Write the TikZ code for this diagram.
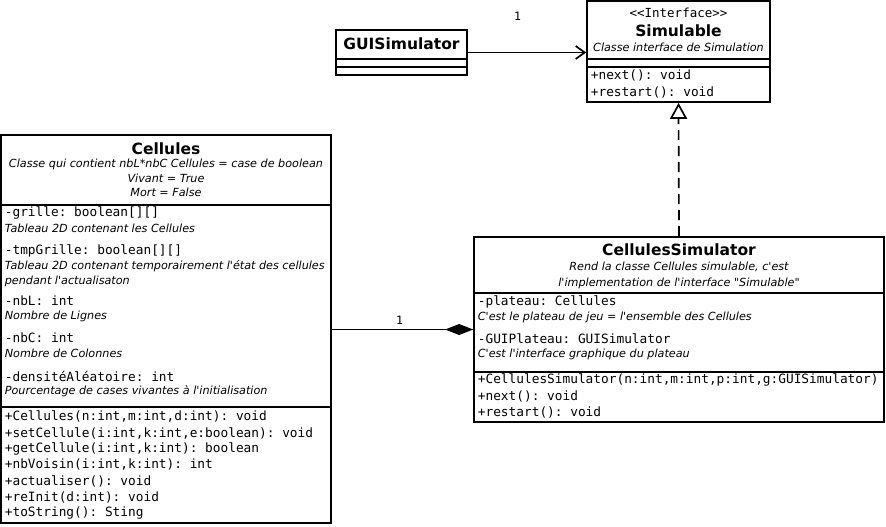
\documentclass[tikz,border=0pt]{standalone}
\usepackage{fontspec}
\setmainfont{DejaVu Sans}[Ligatures=TeXOff]
\setmonofont{DejaVu Sans Mono}
\usetikzlibrary{arrows.meta}

\begin{document}
\begin{tikzpicture}[x=1pt, y=-1pt, line width=1.7pt,
    umlbox/.style={draw, inner sep=0pt},
    ttl/.style={font=\fontsize{15.5}{18}\selectfont\bfseries, inner sep=0pt},
    cmt/.style={font=\fontsize{11.2}{13}\selectfont\itshape, inner sep=0pt},
    cmtl/.style={cmt, anchor=west},
    mbr/.style={font=\fontsize{12.8}{15}\selectfont\ttfamily, inner sep=0pt, anchor=west},
    mult/.style={font=\fontsize{11.5}{13}\selectfont\ttfamily, inner sep=0pt}]
    \useasboundingbox (0,0) rectangle (886,527);

    % 类 GUISimulator
    \node[umlbox, minimum width=131pt, minimum height=45pt] (gui) at (401.5,52.5) {};
    \draw (gui.west |- 0,59) -- (gui.east |- 0,59);
    \draw (gui.west |- 0,67) -- (gui.east |- 0,67);
    \node[ttl] (guiname) at (401.5,44) {GUISimulator};

    % 接口 Simulable
    \node[umlbox, minimum width=183pt, minimum height=101pt] (simu) at (678.5,51.5) {};
    \draw (simu.west |- 0,59) -- (simu.east |- 0,59);
    \draw (simu.west |- 0,67) -- (simu.east |- 0,67);
    \node[font=\fontsize{12.5}{14}\selectfont\ttfamily, inner sep=0pt] (simust) at (678.5,13) {<{}<Interface>{}>};
    \node[ttl] (simuname) at (678.5,30.5) {Simulable};
    \node[cmt] (simucmt) at (678.5,47) {Classe interface de Simulation};
    \node[mbr] (simum1) at (590,75) {+next(): void};
    \node[mbr] (simum2) at (590,92) {+restart(): void};

    % 类 Cellules
    \node[umlbox, minimum width=330pt, minimum height=388pt] (cell) at (166,329) {};
    \draw (cell.west |- 0,205) -- (cell.east |- 0,205);
    \draw (cell.west |- 0,407) -- (cell.east |- 0,407);
    \node[ttl] (cellname) at (166,149) {Cellules};
    \node[cmt] (cellc1) at (166,164) {Classe qui contient nbL*nbC Cellules = case de boolean};
    \node[cmt] (cellc2) at (166,178) {Vivant = True};
    \node[cmt] (cellc3) at (166,192) {Mort = False};
    % attributs
    \node[mbr] (cella1) at (4,213) {-grille: boolean[][]};
    \node[cmtl] (cellk1) at (4,228) {Tableau 2D contenant les Cellules};
    \node[mbr] (cella2) at (4,251) {-tmpGrille: boolean[][]};
    \node[cmtl] (cellk2) at (4,266) {Tableau 2D contenant temporairement l'état des cellules};
    \node[cmtl] (cellk3) at (4,281) {pendant l'actualisaton};
    \node[mbr] (cella3) at (4,301) {-nbL: int};
    \node[cmtl] (cellk4) at (4,316) {Nombre de Lignes};
    \node[mbr] (cella4) at (4,338) {-nbC: int};
    \node[cmtl] (cellk5) at (4,353) {Nombre de Colonnes};
    \node[mbr] (cella5) at (4,376) {-densitéAléatoire: int};
    \node[cmtl] (cellk6) at (4,391) {Pourcentage de cases vivantes à l'initialisation};
    % methodes
    \node[mbr] (cellm1) at (4,416) {+Cellules(n:int,m:int,d:int): void};
    \node[mbr] (cellm2) at (4,433) {+setCellule(i:int,k:int,e:boolean): void};
    \node[mbr] (cellm3) at (4,449) {+getCellule(i:int,k:int): boolean};
    \node[mbr] (cellm4) at (4,465) {+nbVoisin(i:int,k:int): int};
    \node[mbr] (cellm5) at (4,481) {+actualiser(): void};
    \node[mbr] (cellm6) at (4,497) {+reInit(d:int): void};
    \node[mbr] (cellm7) at (4,513) {+toString(): Sting};

    % 类 CellulesSimulator
    \node[umlbox, minimum width=410pt, minimum height=185pt] (csim) at (679,329.5) {};
    \draw (csim.west |- 0,293) -- (csim.east |- 0,293);
    \draw (csim.west |- 0,372) -- (csim.east |- 0,372);
    \node[ttl] (csimname) at (679,250) {CellulesSimulator};
    \node[cmt] (csimc1) at (679,267) {Rend la classe Cellules simulable, c'est};
    \node[cmt] (csimc2) at (679,283) {l'implementation de l'interface "Simulable"};
    \node[mbr] (csima1) at (477,302) {-plateau: Cellules};
    \node[cmtl] (csimk1) at (477,317) {C'est le plateau de jeu = l'ensemble des Cellules};
    \node[mbr] (csima2) at (477,339) {-GUIPlateau: GUISimulator};
    \node[cmtl] (csimk2) at (477,354) {C'est l'interface graphique du plateau};
    \node[mbr] (csimm1) at (477,380) {+CellulesSimulator(n:int,m:int,p:int,g:GUISimulator)};
    \node[mbr] (csimm2) at (477,396) {+next(): void};
    \node[mbr] (csimm3) at (477,412) {+restart(): void};

    % 关联、组合、实现
    \draw[-{Straight Barb[length=9pt, width=13pt]}] (gui.east) -- (simu.west |- gui.east)
        node[pos=0.42, above=31pt, mult] (guimult) {1};
    \draw[{Diamond[length=28pt, width=11pt]}-] (csim.west) -- (cell.east |- csim.west)
        node[pos=0.52, above=4pt, mult] (cellmult) {1};
    \draw[dash pattern=on 10pt off 6pt, -{Triangle[open, length=16pt, width=17pt]}] (csim.north) -- (simu.south);
\end{tikzpicture}
\end{document}
